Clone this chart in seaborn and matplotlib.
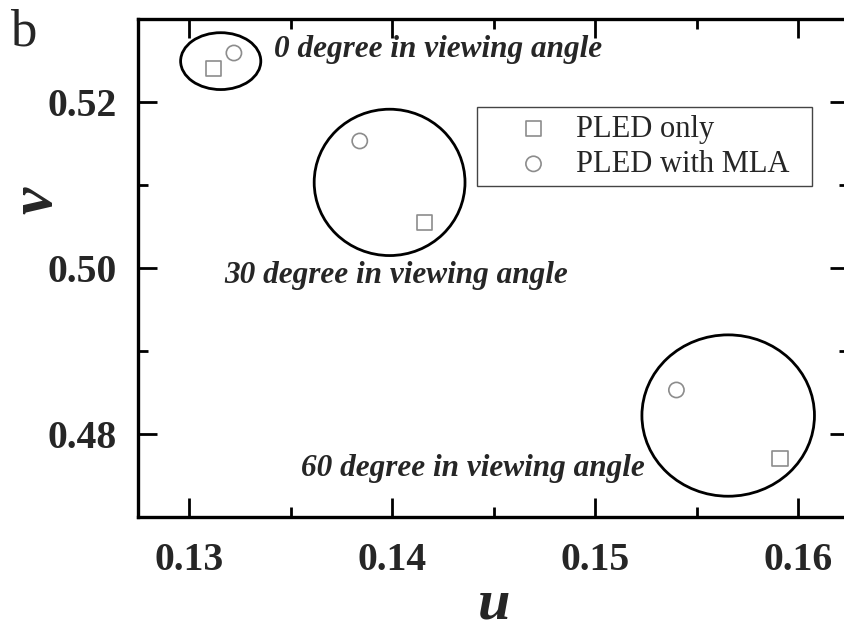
import matplotlib
matplotlib.use("Agg")
import matplotlib.pyplot as plt
from matplotlib.patches import Ellipse
from matplotlib.ticker import MultipleLocator, FormatStrFormatter
import seaborn as sns
import pandas as pd

# CIE 1976 (u, v) colour coordinates at three viewing angles
angles = [0, 30, 60]
pled_only_u = [0.1312, 0.1416, 0.1591]
pled_only_v = [0.5240, 0.5055, 0.4770]
pled_mla_u = [0.1322, 0.1384, 0.1540]
pled_mla_v = [0.5259, 0.5153, 0.4853]
series_names = ["PLED only", "PLED with MLA"]

# grouping ellipses around each viewing angle: centre (u, v), width, height
group_u = [0.13155, 0.13987, 0.15655]
group_v = [0.52492, 0.51031, 0.48222]
group_w = [0.00395, 0.00743, 0.00850]
group_h = [0.00685, 0.01763, 0.01944]

# annotation anchor for each angle (left baseline)
label_u = [0.13418, 0.13171, 0.13549]
label_v = [0.52537, 0.49823, 0.47499]

df = pd.DataFrame({
    "u": pled_only_u + pled_mla_u,
    "v": pled_only_v + pled_mla_v,
    "series": [series_names[0]] * 3 + [series_names[1]] * 3,
})

sns.set_style("ticks")
plt.rcParams["font.family"] = ["Liberation Serif", "DejaVu Serif"]

fig = plt.figure(figsize=(8.45, 6.32), dpi=100)
ax = fig.add_axes([0.1639, 0.182, 0.8408, 0.788])

marker_gray = "#8c8c8c"
for name, mk in zip(series_names, ["s", "o"]):
    sns.scatterplot(
        data=df[df["series"] == name], x="u", y="v", ax=ax,
        marker=mk, s=120, color=marker_gray, facecolor="none",
        edgecolor=marker_gray, linewidth=1.2, label=name, legend=False,
        zorder=3,
    )

for cu, cv, w, h in zip(group_u, group_v, group_w, group_h):
    ax.add_patch(Ellipse((cu, cv), w, h, fill=False, edgecolor="black",
                         linewidth=2.0, zorder=2))

for ang, tu, tv in zip(angles, label_u, label_v):
    ax.text(tu, tv, f"{ang} degree in viewing angle", fontsize=22.5,
            fontweight="bold", fontstyle="italic", ha="left", va="baseline")

ax.set_xlim(0.1275, 0.1625)
ax.set_ylim(0.47, 0.53)
ax.xaxis.set_major_locator(MultipleLocator(0.01))
ax.xaxis.set_minor_locator(MultipleLocator(0.005))
ax.yaxis.set_major_locator(MultipleLocator(0.02))
ax.yaxis.set_minor_locator(MultipleLocator(0.01))
ax.xaxis.set_major_formatter(FormatStrFormatter("%.2f"))
ax.yaxis.set_major_formatter(FormatStrFormatter("%.2f"))

for side in ["left", "right", "top", "bottom"]:
    ax.spines[side].set_visible(True)
    ax.spines[side].set_linewidth(2.4)
    ax.spines[side].set_color("black")

ax.tick_params(which="both", direction="in", top=True, right=True,
               color="black", width=2.0)
ax.tick_params(which="major", length=13.5)
ax.tick_params(which="minor", length=7)
ax.tick_params(axis="x", which="major", pad=18)
ax.tick_params(axis="y", which="major", pad=15.5)
for lab in ax.get_xticklabels() + ax.get_yticklabels():
    lab.set_fontsize(28.5)
    lab.set_fontweight("bold")

ax.set_xlabel("u", fontsize=42, fontweight="bold", fontstyle="italic")
ax.set_ylabel("v", fontsize=44, fontweight="bold", fontstyle="italic")
ax.xaxis.label.set_va("center")
ax.yaxis.label.set_va("center")
ax.xaxis.set_label_coords(0.5, -0.176)
ax.yaxis.set_label_coords(-0.143, 0.636)

leg = ax.legend(loc="upper left", bbox_to_anchor=(0.4764, 0.665, 0.4716, 0.158),
                mode="expand", fontsize=22, frameon=True, fancybox=False,
                borderpad=0.25, labelspacing=0.2, handlelength=3.2,
                handletextpad=-0.2, borderaxespad=0)
leg.get_frame().set_edgecolor("#444444")
leg.get_frame().set_linewidth(1.0)
leg.get_frame().set_alpha(1)

fig.text(10 / 845, 1 - 45 / 632, "b", fontsize=38, ha="left", va="baseline")

fig.savefig("out.png", dpi=100)
